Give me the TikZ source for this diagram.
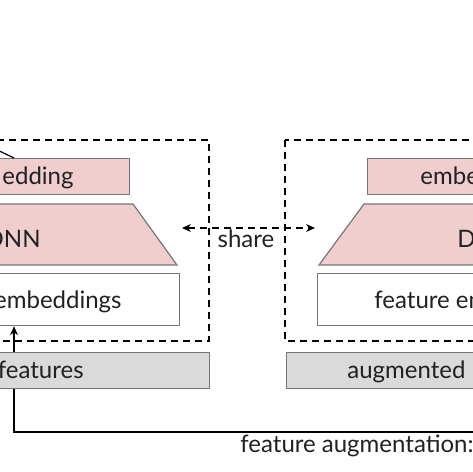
\documentclass[tikz,border=0pt]{standalone}
\usepackage{fontspec}
\setmainfont{Lato}
\usetikzlibrary{arrows.meta, positioning}
\definecolor{dnnpink}{RGB}{241,206,206}
\definecolor{featgray}{RGB}{218,218,218}
\definecolor{edgegray}{RGB}{118,118,118}
\definecolor{inkdark}{RGB}{32,33,36}
\tikzset{
  block/.style={
    draw=edgegray,
    line width=0.6pt,
    rectangle,
    inner sep=0pt,
    minimum width=160pt,
  },
  pinkblock/.style={
    block,
    fill=dnnpink,
    minimum height=18pt
  },
  embblock/.style={
    block,
    fill=white,
    minimum height=26pt
  },
  featblock/.style={
    block,
    fill=featgray,
    minimum height=18pt
  },
  dnnshape/.style={
    draw=edgegray,
    line width=0.6pt,
    fill=dnnpink
  },
  tower/.style={
    draw,
    line width=0.7pt,
    dash pattern=on 3.5pt off 2.5pt
  },
  lbl/.style={
    font=\fontsize{12}{14}\selectfont,
    text=inkdark,
    inner sep=0pt
  },
  arrow/.style={
    -{Stealth[length=4.5pt,width=4pt]},
    line width=0.6pt
  }
}

\begin{document}
\begin{tikzpicture}[x=0.5pt, y=-0.5pt]
\useasboundingbox (0,0) rectangle (473,472);

% --- Left tower ---
\draw[tower] (-120,140) rectangle (209,341);
\node[pinkblock, anchor=north east] (embL) at (130,158) {};
\draw[dnnshape] (-100,204) -- (133,204) -- (177,265) -- (-150,265) -- cycle;
\node[embblock, anchor=north east] (fembL) at (180,273) {};
\node[featblock, anchor=north east] (featL) at (210,352) {};

\node[lbl, anchor=base east] (embLtxt) at (74,184) {edding};
\node[lbl, anchor=base east] (dnnLtxt) at (41,247) {DNN};
\node[lbl, anchor=base east] (fembLtxt) at (122,308) {embeddings};
\node[lbl, anchor=base east] (featLtxt) at (84,378) {features};

% --- Right tower ---
\draw[tower] (285,140) rectangle (620,341);
\node[pinkblock, anchor=north west] (embR) at (367,158) {};
\draw[dnnshape] (364,204) -- (600,204) -- (640,265) -- (319,265) -- cycle;
\node[embblock, anchor=north west] (fembR) at (317,273) {};
\node[featblock, anchor=north west] (featR) at (286,352) {};

\node[lbl, anchor=base west] (embRtxt) at (420,184) {embe};
\node[lbl, anchor=base west] (dnnRtxt) at (457,247) {D};
\node[lbl, anchor=base west] (fembRtxt) at (374,308) {feature em};
\node[lbl, anchor=base west] (featRtxt) at (347,378) {augmented};

% --- Shared weights ---
\coordinate (shareL) at (182,228);
\coordinate (shareR) at (315,228);
\draw[arrow, {Stealth[length=4.5pt,width=4pt]}-{Stealth[length=4.5pt,width=4pt]}, dash pattern=on 3.5pt off 2.5pt] (shareL) -- (shareR);
\node[lbl, anchor=base] (sharetxt) at (246,247) {share};

% --- Feature augmentation path ---
\coordinate (upx) at (14,0);
\coordinate (outL) at (-40,132);
\coordinate (augend) at (620,432);
\draw[arrow] (featL.north -| upx) -- (fembL.south -| upx);
\draw[line width=0.6pt] (embL.north -| upx) -- (outL);
\draw[line width=0.7pt] (featL.south -| upx) |- (augend);
\node[lbl, anchor=base west] (augtxt) at (240,452) {feature augmentation:};

\end{tikzpicture}
\end{document}
